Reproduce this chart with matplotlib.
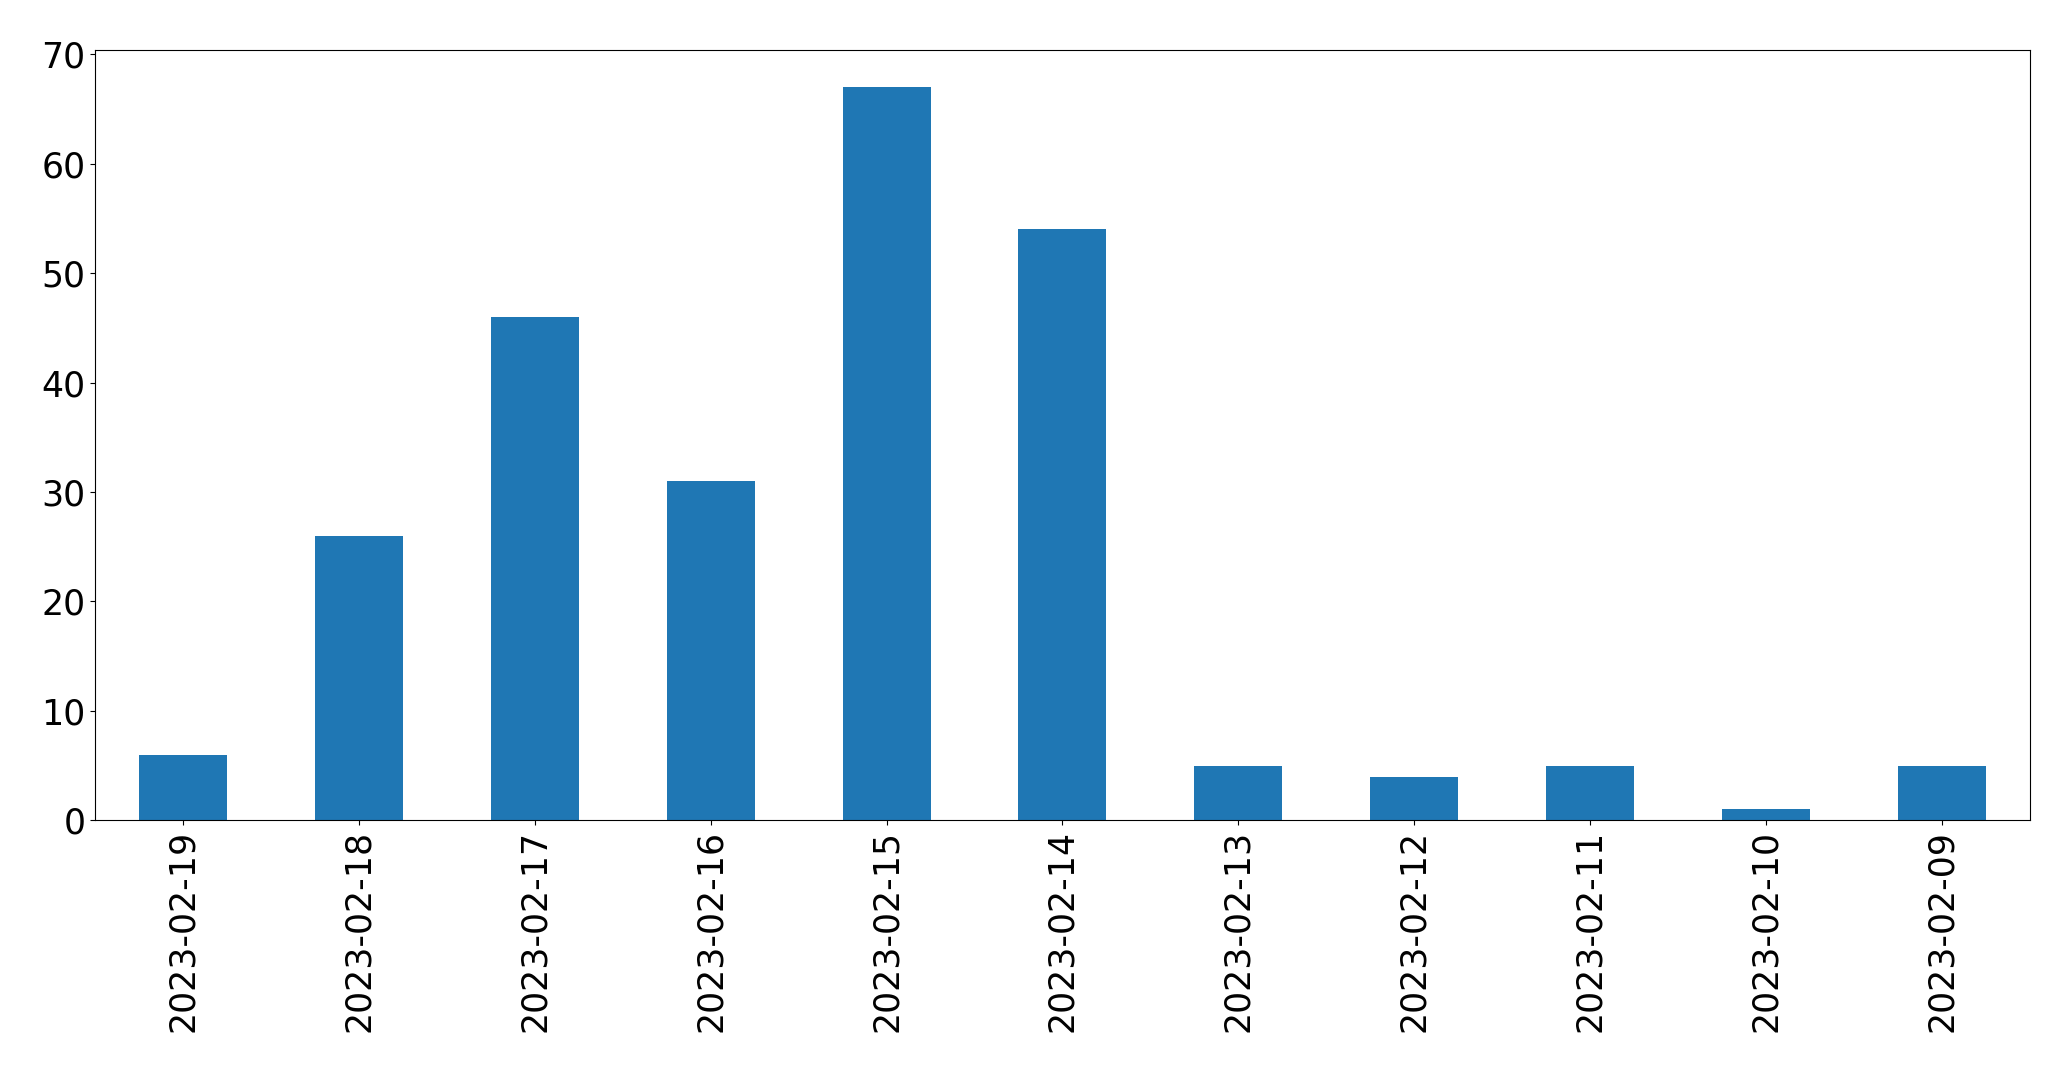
import matplotlib
matplotlib.use("Agg")
import matplotlib.pyplot as plt
import pandas as pd

dates = ["2023-02-19", "2023-02-18", "2023-02-17", "2023-02-16", "2023-02-15",
         "2023-02-14", "2023-02-13", "2023-02-12", "2023-02-11", "2023-02-10",
         "2023-02-09"]
counts = [6, 26, 46, 31, 67, 54, 5, 4, 5, 1, 5]

s = pd.Series(counts, index=dates)

fig = plt.figure(figsize=(20.71, 10.71), dpi=100)
ax = fig.add_axes([0.046, 0.234, 0.934, 0.719])
s.plot(kind="bar", ax=ax, color="#1f77b4", width=0.5)
ax.tick_params(axis="both", labelsize=25)
ax.set_yticks(range(0, 71, 10))

fig.savefig("out.png", dpi=100)
